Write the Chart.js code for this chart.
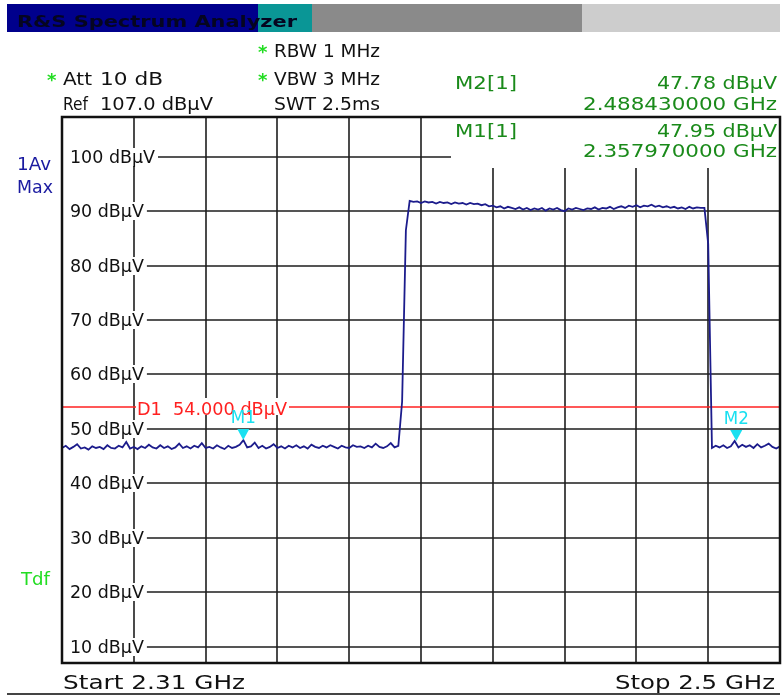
<!DOCTYPE html>
<html>
<head>
<meta charset="utf-8">
<script src="https://cdn.jsdelivr.net/npm/chart.js@4.4.1/dist/chart.umd.min.js"></script>
<style>
  html, body { margin: 0; padding: 0; background: #fff; }
  canvas { display: block; }
</style>
</head>
<body>
<canvas id="sa" width="783" height="697"></canvas>
<script>
// Sweep settings (MHz) - one trace point per MHz
const startMHz = 2310;
const stopMHz = 2500;
const stepMHz = 1;

// Trace 1 (Av / Max hold), dBµV, 2310 .. 2500 MHz
const traceLevels = [
  46.5, 46.9, 46.3, 46.7, 47.2, 46.4, 46.6, 46.2, 46.8, 46.5,
  46.7, 46.3, 47.0, 46.5, 46.4, 46.9, 46.6, 47.6, 46.4, 46.7,
  46.3, 46.8, 46.5, 47.1, 46.6, 46.4, 47.0, 46.5, 46.8, 46.3,
  46.6, 47.3, 46.5, 46.8, 46.4, 46.9, 46.6, 47.4, 46.5, 46.7,
  46.4, 47.0, 46.6, 46.3, 46.9, 46.5, 46.7, 47.1, 47.95, 46.6,
  46.8, 47.5, 46.5, 46.9, 46.4, 46.7, 47.2, 46.5, 46.8, 46.4,
  46.9, 46.6, 47.0, 46.5, 46.8, 46.4, 47.1, 46.7, 46.5, 46.9,
  46.6, 47.0, 46.7, 46.4, 46.9, 46.6, 46.5, 47.0, 46.7, 46.8,
  46.5, 46.9, 46.6, 47.3, 46.7, 46.5, 46.8, 47.4, 46.6, 46.9,
  55.0, 86.5,
  91.9, 91.7, 91.8, 91.5, 91.8, 91.6, 91.7, 91.4,
  91.7, 91.5, 91.6, 91.3, 91.6, 91.4, 91.5, 91.2, 91.5, 91.3,
  91.4, 91.1, 91.3, 90.9, 91.0, 90.7, 90.9, 90.5, 90.8, 90.6,
  90.4, 90.7, 90.3, 90.6, 90.2, 90.5, 90.3, 90.6, 90.1, 90.5,
  90.3, 90.6, 90.2, 90.0, 90.5, 90.3, 90.6, 90.4, 90.2, 90.5,
  90.4, 90.7, 90.3, 90.6, 90.5, 90.8, 90.4, 90.7, 90.9, 90.6,
  91.0, 90.8, 91.1, 90.7, 91.0, 90.9, 91.2, 90.8, 91.0, 90.7,
  90.9, 90.6, 90.8, 90.5, 90.7, 90.4, 90.8, 90.5, 90.7, 90.6,
  90.6, 84.0,
  46.5, 46.9, 46.6, 47.0, 46.5, 46.8, 47.78, 46.6, 47.1, 46.7,
  47.0, 46.5, 47.2, 46.6, 46.9, 47.3, 46.7, 46.4, 46.8
];

// screen grid: 10 frequency divisions, level lines every 10 dB
const gridFreqs = [2310, 2329, 2348, 2367, 2386, 2405, 2424, 2443, 2462, 2481, 2500];
const levelTicks = [100, 90, 80, 70, 60, 50, 40, 30, 20, 10];
const levelLabels = ["100 dBµV", "90 dBµV", "80 dBµV", "70 dBµV", "60 dBµV",
                     "50 dBµV", "40 dBµV", "30 dBµV", "20 dBµV", "10 dBµV"];
const levelMin = 7;
const levelMax = 107.3;

// display line D1
const displayLine = 54;
const displayLineLabel = "D1  54.000 dBµV";

// markers
const markerNames = ["M1", "M2"];
const markerFreqs = [2357.97, 2488.43];
const markerLevels = [47.95, 47.78];

const FONT = '"DejaVu Sans", Verdana, sans-serif';

// text drawn with a target width (screenshot font is wider than DejaVu)
function txt(ctx, s, x, base, size, color, w, align, bold) {
  ctx.save();
  ctx.font = (bold ? "bold " : "") + size + "px " + FONT;
  const m = ctx.measureText(s).width;
  const sx = w ? w / m : 1;
  ctx.translate(x, base);
  ctx.scale(sx, 1);
  ctx.textAlign = align || "left";
  ctx.textBaseline = "alphabetic";
  ctx.fillStyle = color;
  ctx.fillText(s, 0, 0);
  ctx.restore();
  return m * sx;
}

const analyzerScreen = {
  id: "analyzerScreen",
  beforeDraw(chart) {
    const ctx = chart.ctx;
    ctx.save();
    ctx.fillStyle = "#fff";
    ctx.fillRect(0, 0, chart.width, chart.height);

    // title bar
    ctx.fillStyle = "#00008c"; ctx.fillRect(7, 4, 251, 28);
    ctx.fillStyle = "#0a9696"; ctx.fillRect(258, 4, 54, 28);
    ctx.fillStyle = "#8a8a8a"; ctx.fillRect(312, 4, 270, 28);
    ctx.fillStyle = "#cdcdcd"; ctx.fillRect(582, 4, 198, 28);
    txt(ctx, "R&S Spectrum Analyzer", 17, 27, 16, "#050520", 280, "left", true);

    // settings
    const green = "#22dd22";
    const ink = "#111";
    txt(ctx, "*", 258, 58, 18, green, 0, "left", true);
    txt(ctx, "RBW 1 MHz", 274, 57, 18, ink, 106);
    txt(ctx, "*", 47, 86, 18, green, 0, "left", true);
    txt(ctx, "Att", 63, 85, 18, ink, 29);
    txt(ctx, "10 dB", 100, 85, 18, ink, 63);
    txt(ctx, "*", 258, 86, 18, green, 0, "left", true);
    txt(ctx, "VBW 3 MHz", 274, 85, 18, ink, 106);
    txt(ctx, "Ref", 63, 110, 18, ink, 25);
    txt(ctx, "107.0 dBµV", 100, 110, 18, ink, 113);
    txt(ctx, "SWT 2.5ms", 274, 110, 18, ink, 106);

    // marker readout
    const mg = "#1a8a1a";
    txt(ctx, "M2[1]", 455, 89, 18, mg, 62);
    txt(ctx, "47.78 dBµV", 777, 89, 18, mg, 120, "right");
    txt(ctx, "2.488430000 GHz", 777, 110, 18, mg, 194, "right");

    // trace info on the left
    txt(ctx, "1Av", 17, 170, 17, "#1a1aa0", 34);
    txt(ctx, "Max", 17, 193, 17, "#1a1aa0", 36);
    txt(ctx, "Tdf", 21, 585, 17, green, 29);

    // footer
    txt(ctx, "Start 2.31 GHz", 63, 689, 20, ink, 182);
    txt(ctx, "Stop 2.5 GHz", 775, 689, 20, ink, 160, "right");
    ctx.fillStyle = "#444";
    ctx.fillRect(7, 693, 773, 2);
    ctx.restore();
  },
  beforeDatasetsDraw(chart) {
    const ctx = chart.ctx;
    const a = chart.chartArea;
    const xs = chart.scales.x, ys = chart.scales.y;
    ctx.save();
    ctx.strokeStyle = "#1e1e1e";
    ctx.lineWidth = 1.6;
    ctx.beginPath();
    gridFreqs.slice(1, -1).forEach(f => {
      const px = Math.round(xs.getPixelForValue(f));
      ctx.moveTo(px, a.top); ctx.lineTo(px, a.bottom);
    });
    levelTicks.forEach(l => {
      const py = Math.round(ys.getPixelForValue(l));
      ctx.moveTo(a.left, py); ctx.lineTo(a.right, py);
    });
    ctx.stroke();

    // marker info box inside the screen
    ctx.fillStyle = "#fff";
    ctx.fillRect(451, a.top, a.right - 451, 51);
    const mg = "#1a8a1a";
    txt(ctx, "M1[1]", 455, 137, 18, mg, 62);
    txt(ctx, "47.95 dBµV", 777, 137, 18, mg, 120, "right");
    txt(ctx, "2.357970000 GHz", 777, 157, 18, mg, 194, "right");

    // level labels with white background
    ctx.font = "17px " + FONT;
    const labelScale = 85 / ctx.measureText(levelLabels[0]).width;
    levelTicks.forEach((l, i) => {
      const py = Math.round(ys.getPixelForValue(l));
      ctx.font = "17px " + FONT;
      const w = ctx.measureText(levelLabels[i]).width * labelScale;
      ctx.fillStyle = "#fff";
      ctx.fillRect(a.left + 1, py - 9, 70 - a.left + w + 2, 18);
      txt(ctx, levelLabels[i], 70, py + 6, 17, "#111", w);
    });

    // display line D1
    const dy = Math.round(ys.getPixelForValue(displayLine));
    ctx.strokeStyle = "#ff2020";
    ctx.lineWidth = 1.6;
    ctx.beginPath();
    ctx.moveTo(a.left, dy); ctx.lineTo(a.right, dy);
    ctx.stroke();
    ctx.fillStyle = "#fff";
    ctx.fillRect(136, dy - 9, 153, 17);
    txt(ctx, displayLineLabel, 137, dy + 8, 17, "#ff2020", 150);
    ctx.restore();
  },
  afterDatasetsDraw(chart) {
    const ctx = chart.ctx;
    const a = chart.chartArea;
    const xs = chart.scales.x, ys = chart.scales.y;
    ctx.save();
    markerNames.forEach((n, i) => {
      const px = xs.getPixelForValue(markerFreqs[i]);
      const py = ys.getPixelForValue(markerLevels[i]);
      ctx.fillStyle = "#19e0f0";
      ctx.beginPath();
      ctx.moveTo(px - 6, py - 11);
      ctx.lineTo(px + 6, py - 11);
      ctx.lineTo(px, py);
      ctx.closePath();
      ctx.fill();
      txt(ctx, n, px, py - 17, 17, "#19e0f0", 25, "center");
    });
    // screen frame
    ctx.strokeStyle = "#111";
    ctx.lineWidth = 2.5;
    ctx.strokeRect(a.left, a.top, a.right - a.left, a.bottom - a.top);
    ctx.restore();
  }
};

const tracePoints = traceLevels.map((v, i) => ({ x: startMHz + i * stepMHz, y: v }));

new Chart(document.getElementById("sa"), {
  type: "line",
  data: {
    datasets: [{
      label: "1Av Max",
      data: tracePoints,
      borderColor: "#1c1c8c",
      borderWidth: 1.8,
      pointRadius: 0,
      tension: 0,
      fill: false
    }]
  },
  options: {
    responsive: false,
    animation: false,
    events: [],
    layout: { padding: { left: 62, top: 117, right: 3, bottom: 34 } },
    plugins: {
      legend: { display: false },
      tooltip: { enabled: false }
    },
    scales: {
      x: { type: "linear", display: false, min: startMHz, max: stopMHz },
      y: { type: "linear", display: false, min: levelMin, max: levelMax }
    }
  },
  plugins: [analyzerScreen]
});
</script>
</body>
</html>
